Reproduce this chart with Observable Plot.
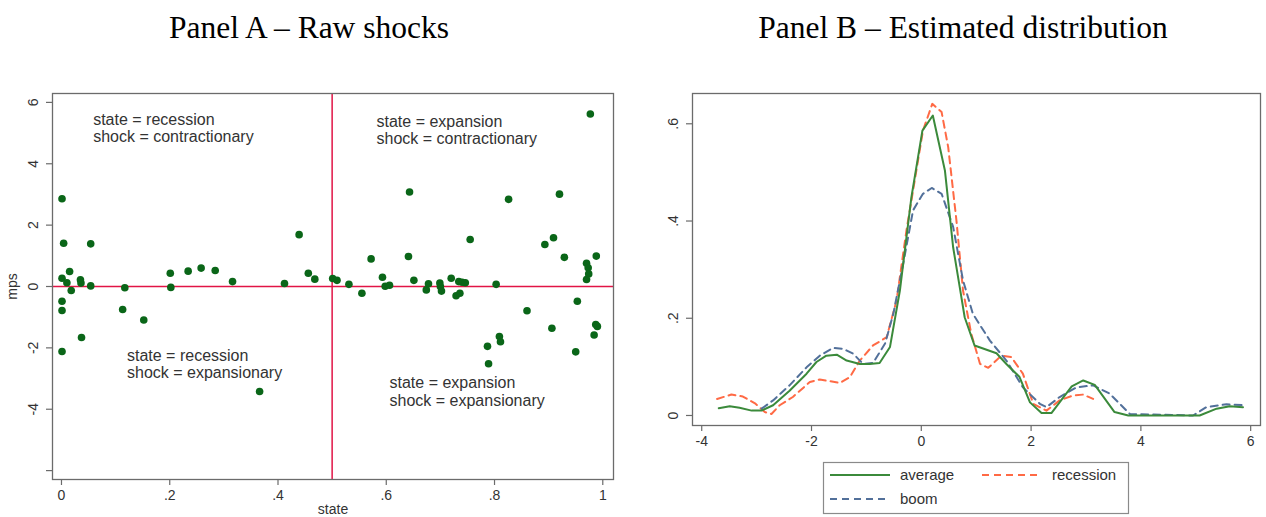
<!DOCTYPE html>
<html>
<head>
<meta charset="utf-8">
<script src="https://cdn.jsdelivr.net/npm/d3@7"></script>
<script src="https://cdn.jsdelivr.net/npm/@observablehq/plot@0.6"></script>
<style>
  html, body { margin: 0; padding: 0; background: #fff; overflow: hidden; }
  #root { position: relative; width: 1266px; height: 517px; font-family: "Liberation Sans", Arial, sans-serif; }
  .title { position: absolute; top: 12px; font-family: "Liberation Serif", "Times New Roman", serif;
           font-size: 31.5px; line-height: 1; color: #000; white-space: nowrap; transform: translateX(-50%); }
  .panel { position: absolute; }
  .panel svg { overflow: visible; }
</style>
</head>
<body>
<div id="root">
  <div class="title" style="left:309px">Panel A – Raw shocks</div>
  <div class="title" style="left:963px">Panel B – Estimated distribution</div>
  <div class="panel" id="panelA" style="left:0px; top:80px"></div>
  <div class="panel" id="panelB" style="left:636px; top:80px"></div>
  <div class="panel" id="legendB" style="left:823px; top:462px"></div>
</div>
<script>
// ---------- Panel A: monetary policy shocks against the state of the economy ----------
const shockState = [
  0.001, 0.004, 0.054, 0.001, 0.015, 0.010, 0.035, 0.036, 0.018, 0.054,
  0.117, 0.201, 0.202, 0.234, 0.258, 0.284, 0.316, 0.412, 0.439, 0.456,
  0.468, 0.001, 0.001, 0.001, 0.037, 0.113, 0.152, 0.366,
  0.501, 0.509, 0.531, 0.555, 0.572, 0.593, 0.598, 0.606, 0.641, 0.643,
  0.651, 0.674, 0.678, 0.699, 0.700, 0.702, 0.720, 0.729, 0.736, 0.734,
  0.740, 0.746, 0.755, 0.803, 0.826, 0.787, 0.789, 0.809, 0.811, 0.860,
  0.893, 0.909, 0.906, 0.920, 0.929, 0.950, 0.953, 0.970, 0.973, 0.974,
  0.970, 0.977, 0.984, 0.987, 0.990, 0.988
];
const shockMps = [
  2.86, 1.41, 1.39, 0.27, 0.49, 0.12, 0.22, 0.11, -0.13, 0.02,
  -0.04, 0.43, -0.03, 0.50, 0.60, 0.52, 0.16, 0.10, 1.69, 0.43,
  0.24, -0.48, -0.78, -2.12, -1.66, -0.75, -1.09, -3.42,
  0.26, 0.20, 0.07, -0.22, 0.90, 0.30, 0.01, 0.04, 0.98, 3.08,
  0.20, -0.11, 0.09, 0.11, 0.00, -0.15, 0.27, -0.30, -0.22, 0.16,
  0.14, 0.12, 1.53, 0.07, 2.84, -1.95, -2.52, -1.63, -1.80, -0.79,
  1.37, 1.59, -1.36, 3.01, 0.95, -2.13, -0.48, 0.76, 0.61, 0.41,
  0.23, 5.62, -1.58, -1.24, -1.30, 0.99
];

const quadrantText = [
  "state = recession\nshock = contractionary",
  "state = expansion\nshock = contractionary",
  "state = recession\nshock = expansionary",
  "state = expansion\nshock = expansionary"
];
const quadrantState = [0.0585, 0.582, 0.121, 0.606];
const quadrantMps = [5.17, 5.11, -2.52, -3.42];

const stateTicks = [0, 0.2, 0.4, 0.6, 0.8, 1];
const stateTickLabels = ["0", ".2", ".4", ".6", ".8", "1"];
const mpsTicks = [-6, -4, -2, 0, 2, 4, 6];
const mpsTickLabels = ["", "-4", "-2", "0", "2", "4", "6"];

// ---------- Panel B: estimated densities of the shocks ----------
const averageX = [-3.69, -3.49, -3.31, -3.09, -2.91, -2.70, -2.40, -2.09, -1.91, -1.73,
  -1.54, -1.36, -1.12, -0.94, -0.76, -0.57, -0.39, -0.18, 0.02, 0.21,
  0.43, 0.58, 0.70, 0.79, 0.97, 1.37, 1.55, 1.79, 1.98, 2.19,
  2.37, 2.74, 2.95, 3.16, 3.52, 3.77, 5.07, 5.38, 5.62, 5.86];
const averageY = [0.015, 0.019, 0.016, 0.010, 0.010, 0.021, 0.051, 0.086, 0.110, 0.123,
  0.125, 0.113, 0.106, 0.106, 0.108, 0.141, 0.257, 0.449, 0.586, 0.617,
  0.504, 0.346, 0.264, 0.202, 0.144, 0.128, 0.106, 0.079, 0.027, 0.005,
  0.005, 0.060, 0.072, 0.063, 0.007, 0.000, 0.000, 0.014, 0.019, 0.017];

const recessionX = [-3.72, -3.46, -3.25, -3.03, -2.85, -2.73, -2.58, -2.34, -2.03, -1.85,
  -1.48, -1.30, -1.12, -0.88, -0.63, -0.45, -0.27, 0.03, 0.20, 0.37,
  0.49, 0.64, 0.76, 0.91, 1.07, 1.22, 1.46, 1.64, 1.85, 2.04,
  2.28, 2.52, 2.76, 2.95, 3.13];
const recessionY = [0.034, 0.043, 0.039, 0.025, 0.007, 0.003, 0.021, 0.038, 0.069, 0.074,
  0.067, 0.079, 0.113, 0.144, 0.161, 0.237, 0.381, 0.586, 0.641, 0.624,
  0.552, 0.401, 0.257, 0.168, 0.106, 0.098, 0.123, 0.120, 0.086, 0.024,
  0.010, 0.031, 0.041, 0.043, 0.034];

const boomX = [-2.91, -2.70, -2.40, -2.09, -1.85, -1.61, -1.42, -1.24, -1.06, -0.88,
  -0.66, -0.51, -0.33, -0.15, 0.03, 0.19, 0.37, 0.58, 0.76, 0.94,
  1.25, 1.55, 1.85, 2.16, 2.28, 2.52, 2.83, 3.13, 3.43, 3.80,
  4.95, 5.19, 5.56, 5.89];
const boomY = [0.014, 0.031, 0.062, 0.099, 0.123, 0.139, 0.137, 0.127, 0.106, 0.108,
  0.148, 0.209, 0.312, 0.422, 0.456, 0.468, 0.456, 0.388, 0.278, 0.209,
  0.154, 0.113, 0.058, 0.024, 0.017, 0.038, 0.058, 0.062, 0.045, 0.003,
  0.000, 0.017, 0.023, 0.021];

const densityXTicks = [-4, -2, 0, 2, 4, 6];
const densityXTickLabels = ["-4", "-2", "0", "2", "4", "6"];
const densityYTicks = [0, 0.2, 0.4, 0.6];
const densityYTickLabels = ["0", ".2", ".4", ".6"];

const seriesNames = ["average", "recession", "boom"];
const seriesColors = ["#3b8a3b", "#ff6a45", "#52709a"];
const seriesDash = [null, "7,5", "7,5"];

// ---------- shared styling ----------
const axisGray = "#6b6b6b";
const textGray = "#333333";
const axisFont = 14;
const plotStyle = {
  fontFamily: "'Liberation Sans', Arial, sans-serif",
  fontSize: "14px",
  color: textGray,
  background: "transparent",
  overflow: "visible"
};
const labelMap = (ticks, labels) => {
  const m = new Map(ticks.map((t, i) => [t, labels[i]]));
  return d => m.get(d) ?? "";
};

// ---------- Panel A ----------
const shocks = shockState.map((s, i) => ({state: s, mps: shockMps[i]}));
const quadrants = quadrantText.map((t, i) => ({text: t, state: quadrantState[i], mps: quadrantMps[i]}));

const chartA = Plot.plot({
  width: 630, height: 440,
  marginLeft: 52, marginRight: 17, marginTop: 13, marginBottom: 41,
  style: plotStyle,
  x: {domain: [-0.0166, 1.0198]},
  y: {domain: [-6.29, 6.29]},
  marks: [
    Plot.ruleY([0], {stroke: "#e11446", strokeWidth: 1.5}),
    Plot.ruleX([0.5], {stroke: "#e11446", strokeWidth: 1.5}),
    Plot.dot(shocks, {x: "state", y: "mps", r: 3.8, fill: "#0a6618", stroke: "none"}),
    Plot.text(quadrants, {x: "state", y: "mps", text: "text", textAnchor: "start",
      lineAnchor: "middle", lineHeight: 1.08, fontSize: 16, fill: textGray}),
    Plot.frame({stroke: axisGray, strokeWidth: 1.3}),
    Plot.axisX({ticks: stateTicks, tickFormat: labelMap(stateTicks, stateTickLabels),
      tickSize: 6, tickPadding: 5, stroke: axisGray, strokeWidth: 1.2, fontSize: axisFont,
      label: "state", labelAnchor: "center", labelArrow: "none", labelOffset: 34}),
    Plot.axisY({ticks: mpsTicks, tickFormat: labelMap(mpsTicks, mpsTickLabels),
      tickRotate: -90, tickSize: 6, tickPadding: 9, stroke: axisGray, strokeWidth: 1.2, fontSize: axisFont,
      label: "mps", labelAnchor: "center", labelArrow: "none", labelOffset: 45})
  ]
});
document.getElementById("panelA").append(chartA);

// ---------- Panel B ----------
const densities = [
  ...averageX.map((x, i) => ({series: "average", x, y: averageY[i]})),
  ...recessionX.map((x, i) => ({series: "recession", x, y: recessionY[i]})),
  ...boomX.map((x, i) => ({series: "boom", x, y: boomY[i]}))
];

const lineMarks = seriesNames.map((name, k) =>
  Plot.line(densities.filter(d => d.series === name), {
    x: "x", y: "y", stroke: seriesColors[k], strokeWidth: 2,
    strokeDasharray: seriesDash[k] ?? undefined
  })
);

const chartB = Plot.plot({
  width: 630, height: 380,
  marginLeft: 56, marginRight: 6, marginTop: 13, marginBottom: 35,
  style: plotStyle,
  x: {domain: [-4.168, 6.179]},
  y: {domain: [-0.0206, 0.6623]},
  marks: [
    // recession and boom first, average drawn on top
    lineMarks[1], lineMarks[2], lineMarks[0],
    Plot.frame({stroke: axisGray, strokeWidth: 1.3}),
    Plot.axisX({ticks: densityXTicks, tickFormat: labelMap(densityXTicks, densityXTickLabels),
      tickSize: 6, tickPadding: 5, stroke: axisGray, strokeWidth: 1.2, fontSize: axisFont, label: null}),
    Plot.axisY({ticks: densityYTicks, tickFormat: labelMap(densityYTicks, densityYTickLabels),
      tickRotate: -90, tickSize: 6, tickPadding: 9, stroke: axisGray, strokeWidth: 1.2, fontSize: axisFont, label: null})
  ]
});
document.getElementById("panelB").append(chartB);

// ---------- Panel B legend ----------
const legendItems = [
  {k: 0, lx: 7, ly: 13},
  {k: 1, lx: 159, ly: 13},
  {k: 2, lx: 7, ly: 37}
];
const legend = d3.select("#legendB").append("svg")
  .attr("width", 306).attr("height", 52)
  .style("display", "block");
legend.append("rect")
  .attr("x", 0.5).attr("y", 0.5).attr("width", 305).attr("height", 51)
  .attr("fill", "#fff").attr("stroke", "#8a8a8a").attr("stroke-width", 1.2);
const item = legend.selectAll("g.item").data(legendItems).join("g").attr("class", "item");
item.append("line")
  .attr("x1", d => d.lx).attr("x2", d => d.lx + 60)
  .attr("y1", d => d.ly).attr("y2", d => d.ly)
  .attr("stroke", d => seriesColors[d.k]).attr("stroke-width", 2)
  .attr("stroke-dasharray", d => seriesDash[d.k]);
item.append("text")
  .attr("x", d => d.lx + 70).attr("y", d => d.ly + 5)
  .attr("font-family", "'Liberation Sans', Arial, sans-serif")
  .attr("font-size", 15).attr("fill", textGray)
  .text(d => seriesNames[d.k]);
</script>
</body>
</html>
